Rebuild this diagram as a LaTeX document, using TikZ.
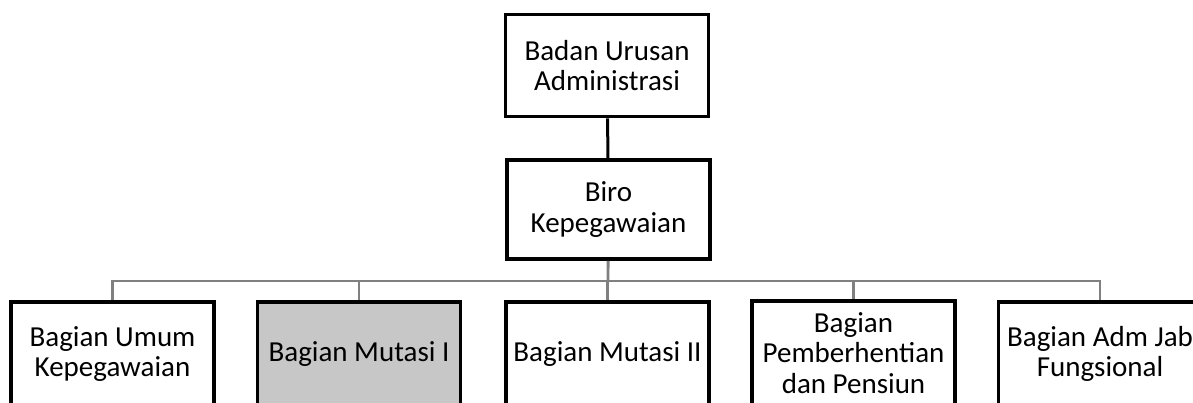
\documentclass[tikz,border=0pt]{standalone}
\usepackage{fontspec}
\setmainfont{Carlito}
\tikzset{
  unit/.style={draw, line width=3.6pt, minimum width=203pt, align=center,
    inner sep=2pt, font=\fontsize{29}{30.5}\selectfont},
  bus/.style={line width=2.8pt, draw=black!50},
}
\begin{document}
\begin{tikzpicture}[x=1pt,y=-1pt]
	\clip (0,0) rectangle (1193,403);
	\fill[white] (0,0) rectangle (1193,403);
	% upper levels
	\node[unit, minimum height=102pt] (bua) at (607,65.5) {Badan Urusan\\Administrasi};
	\node[unit, minimum height=99pt] (biro) at (608.5,209.5) {Biro\\Kepegawaian};
	% bagian
	\node[unit, minimum height=104pt] (umum) at (112.5,354) {Bagian Umum\\Kepegawaian};
	\node[unit, minimum height=104pt, fill=black!22] (mut1) at (359,354) {Bagian Mutasi I};
	\node[unit, minimum height=104pt] (mut2) at (607.5,354) {Bagian Mutasi II};
	\node[unit, minimum height=104pt] (pens) at (853.5,353) {Bagian\\Pemberhentian\\dan Pensiun};
	\node[unit, minimum height=104pt] (fung) at (1100,354) {Bagian Adm Jab\\Fungsional};
	\coordinate (bus) at (608,281);
	\draw[line width=3pt] (bua) -- (biro);
	\draw[bus] (biro) -- (bus);
	\draw[bus] (umum.north) -- (umum.north |- bus) -- (fung.north |- bus) -- (fung.north);
	\foreach \b in {mut1,mut2,pens}
		\draw[bus] (\b.north) -- (\b.north |- bus);
\end{tikzpicture}
\end{document}
